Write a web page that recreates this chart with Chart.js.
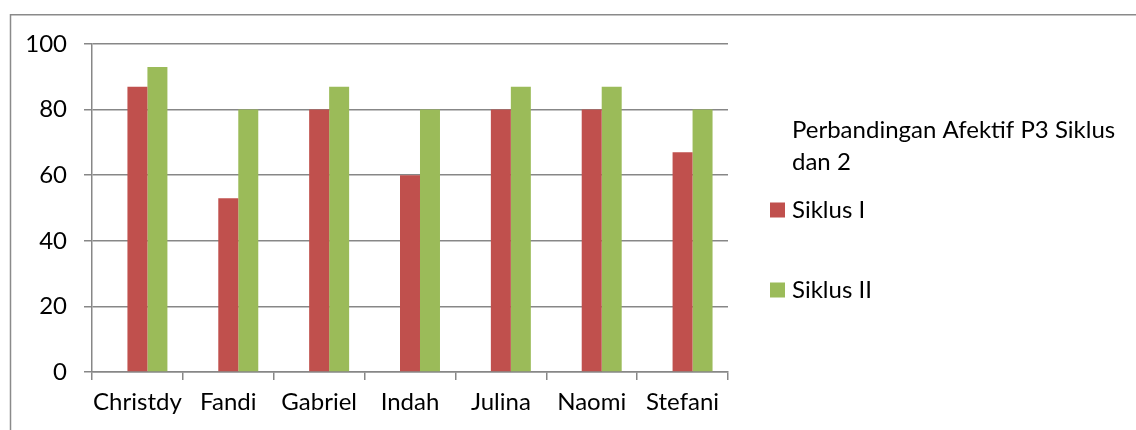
<!DOCTYPE html>
<html><head><meta charset="utf-8">
<script src="https://cdn.jsdelivr.net/npm/chart.js@4"></script>
<style>html,body{margin:0;padding:0;background:#fff}#wrap{width:1136px;height:430px;position:relative}</style>
</head><body><div id="wrap"><canvas id="c" width="1136" height="430"></canvas></div>
<script>
const categories = ['Christdy', 'Fandi', 'Gabriel', 'Indah', 'Julina', 'Naomi', 'Stefani'];
const seriesNames = ['Perbandingan Afektif P3 Siklus dan 2', 'Siklus I', 'Siklus II'];
const seriesTitleValues = [null, null, null, null, null, null, null];
const siklus1 = [87, 53, 80, 60, 80, 80, 67];
const siklus2 = [93, 80, 87, 80, 87, 87, 80];
const yTickValues = [0, 20, 40, 60, 80, 100];

const FONT = 'Lato, "Open Sans", sans-serif';
const FSIZE = 24;
const GRID = '#878787';

const framePlugin = {
  id: 'frame',
  beforeDraw(chart) {
    const ctx = chart.ctx;
    ctx.save();
    ctx.strokeStyle = '#8a8a8a';
    ctx.lineWidth = 1.5;
    ctx.beginPath();
    ctx.moveTo(10.5, 440);
    ctx.lineTo(10.5, 14.75);
    ctx.lineTo(1140, 14.75);
    ctx.stroke();
    ctx.restore();
  }
};

const legendPlugin = {
  id: 'customLegend',
  afterDraw(chart, args, opts) {
    const ctx = chart.ctx;
    ctx.save();
    ctx.font = FSIZE + 'px ' + FONT;
    ctx.fillStyle = '#000';
    ctx.textBaseline = 'middle';
    ctx.textAlign = 'left';
    const ds = chart.data.datasets;
    // the empty series' name wraps to two lines
    const words = ds[0].label.split(' ');
    const lines = [];
    let cur = '';
    for (const w of words) {
      const t = cur ? cur + ' ' + w : w;
      if (ctx.measureText(t).width > opts.maxWidth && cur) { lines.push(cur); cur = w; } else cur = t;
    }
    if (cur) lines.push(cur);
    lines.forEach((l, i) => ctx.fillText(l, opts.textX, opts.entryY[0] + i * opts.lineH));
    for (let i = 1; i < ds.length; i++) {
      const y = opts.entryY[i];
      ctx.fillStyle = ds[i].backgroundColor;
      ctx.fillRect(opts.boxX, y - opts.box / 2, opts.box, opts.box);
      ctx.fillStyle = '#000';
      ctx.fillText(ds[i].label, opts.textX, y);
    }
    ctx.restore();
  }
};

new Chart(document.getElementById('c'), {
  type: 'bar',
  data: {
    labels: categories,
    datasets: [
      { label: seriesNames[0], data: seriesTitleValues, backgroundColor: 'rgba(0,0,0,0)' },
      { label: seriesNames[1], data: siklus1, backgroundColor: '#C0504D' },
      { label: seriesNames[2], data: siklus2, backgroundColor: '#9BBB59' }
    ]
  },
  plugins: [framePlugin, legendPlugin],
  options: {
    responsive: false,
    devicePixelRatio: 1,
    animation: false,
    layout: { padding: { top: 44, right: 408, bottom: 0, left: 0 } },
    datasets: { bar: { barPercentage: 1, categoryPercentage: 0.66 } },
    plugins: {
      legend: { display: false },
      tooltip: { enabled: false },
      customLegend: { textX: 792, boxX: 770, box: 15, maxWidth: 336, lineH: 32, entryY: [130, 210, 290] }
    },
    scales: {
      x: {
        grid: { offset: true, drawOnChartArea: false, color: GRID, lineWidth: 1.5, tickLength: 8 },
        border: { color: GRID, width: 1.5 },
        ticks: { font: { family: FONT, size: FSIZE }, color: '#000', padding: 8, maxRotation: 0, autoSkip: false },
        afterFit(s) { s.height = 58; }
      },
      y: {
        min: 0, max: 100,
        afterBuildTicks(s) { s.ticks = yTickValues.map(v => ({ value: v })); },
        grid: { color: GRID, lineWidth: 1.5, tickLength: 8 },
        border: { color: GRID, width: 1.5 },
        ticks: { font: { family: FONT, size: FSIZE }, color: '#000', padding: 17 },
        afterFit(s) { s.width = 92; }
      }
    }
  }
});
</script></body></html>
